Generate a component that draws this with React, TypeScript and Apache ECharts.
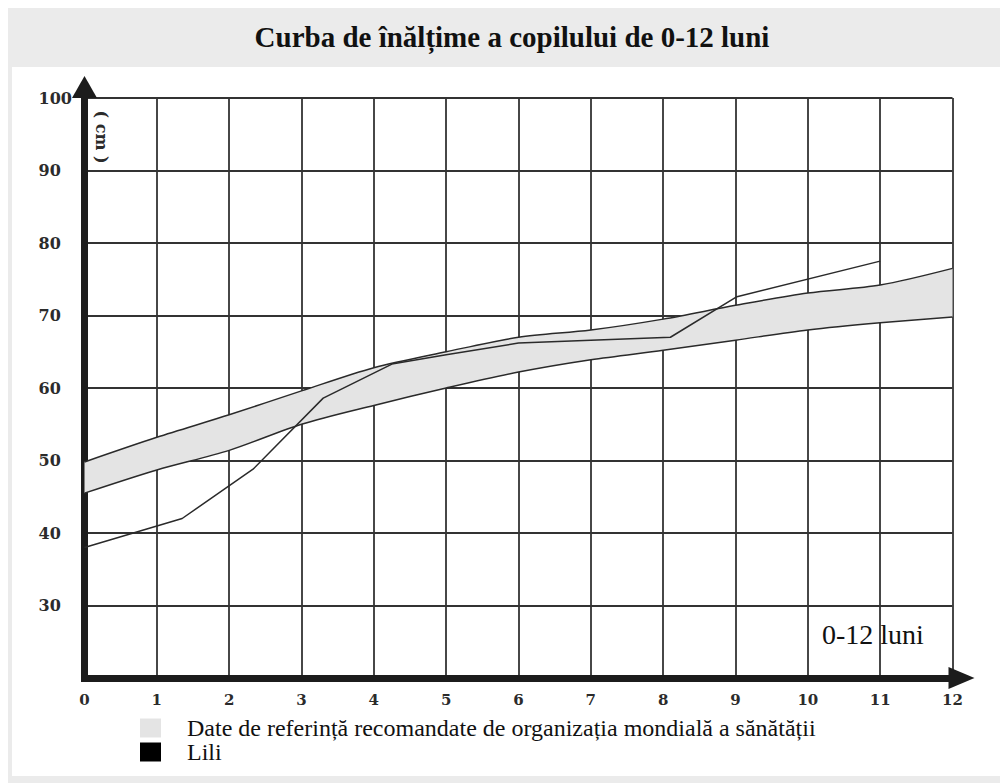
import React, { useEffect, useRef } from 'react';
import * as echarts from 'echarts';

// ---- data ----
const months = [0, 1, 2, 3, 4, 5, 6, 7, 8, 9, 10, 11, 12];
const refLower = [45.5, 48.7, 51.4, 55.0, 57.6, 60.0, 62.2, 63.9, 65.2, 66.6, 68.0, 69.0, 69.8];
const refUpper = [49.8, 53.2, 56.3, 59.6, 62.8, 65.0, 67.0, 68.0, 69.5, 71.4, 73.1, 74.2, 76.5];
const liliMonths = [0, 1.35, 2.33, 3.3, 4.25, 5, 6, 7, 8.1, 9.02, 11];
const liliHeights = [38.0, 42.0, 48.8, 58.6, 63.3, 64.6, 66.2, 66.6, 67.0, 72.6, 77.5];

const titleText = 'Curba de înălțime a copilului de 0-12 luni';
const refName = 'Date de referință recomandate de organizația mondială a sănătății';
const liliName = 'Lili';
const unitText = '( cm )';
const periodText = '0-12 luni';

const SERIF = '"Liberation Serif", "Times New Roman", serif';
const SERIF_B = '"DejaVu Serif", serif';

export default function App() {
  const ref = useRef<HTMLDivElement>(null);
  useEffect(() => {
    if (!ref.current) return;
    const chart = echarts.init(ref.current, undefined, { renderer: 'svg' });
    const diffData = months.map((m, i) => +(refUpper[i] - refLower[i]).toFixed(2));
    const liliData = liliMonths.map((m, i) => [m, liliHeights[i]]);
    const axisLineColor = '#1c1c1c';
    chart.setOption({
      animation: false,
      backgroundColor: 'transparent',
      grid: { left: 76.5, right: 55.5, top: 90, bottom: 105, containLabel: false },
      xAxis: [
        {
          type: 'value',
          min: 0,
          max: 12,
          interval: 1,
          axisLine: {
            onZero: false,
            lineStyle: { color: axisLineColor, width: 7, cap: 'square' },
            symbol: ['none', 'triangle'],
            symbolSize: [22, 26],
            symbolOffset: [0, 9],
          },
          axisTick: { show: false },
          axisLabel: {
            margin: 14,
            color: '#2b2b2b',
            fontFamily: SERIF_B,
            fontWeight: 'bold',
            fontSize: 15,
          },
          splitLine: { show: true, lineStyle: { color: '#333', width: 1.8 } },
        },
        {
          type: 'category',
          show: false,
          boundaryGap: false,
          data: months.map(String),
        },
      ],
      yAxis: {
        type: 'value',
        min: 20,
        max: 100,
        interval: 10,
        axisLine: {
          onZero: false,
          lineStyle: { color: axisLineColor, width: 7, cap: 'square' },
          symbol: ['none', 'triangle'],
          symbolSize: [25, 22],
          symbolOffset: [0, 11],
        },
        axisTick: { show: false },
        axisLabel: {
          showMinLabel: false,
          margin: 46,
          align: 'left',
          color: '#2b2b2b',
          fontFamily: SERIF_B,
          fontWeight: 'bold',
          fontSize: 16,
          padding: [5, 0, 0, 0],
        },
        splitLine: { show: true, lineStyle: { color: '#333', width: 1.8 } },
      },
      legend: {
        show: true,
        orient: 'vertical',
        left: 127,
        top: 703,
        itemWidth: 21,
        itemHeight: 19,
        itemGap: 0,
        icon: 'rect',
        selectedMode: false,
        textStyle: {
          fontFamily: SERIF,
          fontSize: 24,
          color: '#111',
          padding: [0, 0, 0, 21],
        },
        data: [
          { name: refName, icon: 'rect', itemStyle: { color: '#e4e4e4' } },
          { name: liliName, icon: 'rect', itemStyle: { color: '#000' } },
        ],
      },
      graphic: [
        {
          type: 'text',
          x: 504,
          y: 29,
          style: {
            text: titleText,
            fontFamily: SERIF,
            fontWeight: 'bold',
            fontSize: 29,
            fill: '#111',
            align: 'center',
            verticalAlign: 'middle',
          },
        },
        {
          type: 'text',
          x: 93,
          y: 129,
          rotation: -Math.PI / 2,
          style: {
            text: unitText,
            fontFamily: SERIF_B,
            fontWeight: 'bold',
            fontSize: 16,
            fill: '#2b2b2b',
            align: 'center',
            verticalAlign: 'middle',
          },
        },
        {
          type: 'text',
          x: 814,
          y: 626,
          z: 10,
          style: {
            text: periodText,
            fontFamily: SERIF,
            fontSize: 28,
            fill: '#111',
            align: 'left',
            verticalAlign: 'middle',
          },
        },
      ],
      series: [
        {
          name: 'refLowerBase',
          type: 'line',
          xAxisIndex: 1,
          stack: 'band',
          data: refLower,
          smooth: 0.3,
          showSymbol: false,
          symbol: 'none',
          lineStyle: { color: '#2a2a2a', width: 1.5 },
          z: 3,
        },
        {
          name: refName,
          type: 'line',
          xAxisIndex: 1,
          stack: 'band',
          data: diffData,
          smooth: 0.3,
          showSymbol: false,
          symbol: 'none',
          itemStyle: { color: '#e4e4e4' },
          lineStyle: { color: '#2a2a2a', width: 1.5 },
          areaStyle: { color: '#e4e4e4', opacity: 1 },
          z: 3,
        },
        {
          name: liliName,
          type: 'line',
          xAxisIndex: 0,
          data: liliData,
          showSymbol: false,
          symbol: 'none',
          itemStyle: { color: '#000' },
          lineStyle: { color: '#2a2a2a', width: 1.5 },
          z: 4,
        },
      ],
    });
    return () => chart.dispose();
  }, []);

  return (
    <div style={{ position: 'relative', width: 1000, height: 775, background: '#ebebeb' }}>
      <div style={{ position: 'absolute', left: 4, top: 59, width: 995, height: 709, background: '#ffffff' }} />
      <div ref={ref} style={{ position: 'absolute', left: 0, top: 0, width: 1000, height: 775 }} />
    </div>
  );
}
